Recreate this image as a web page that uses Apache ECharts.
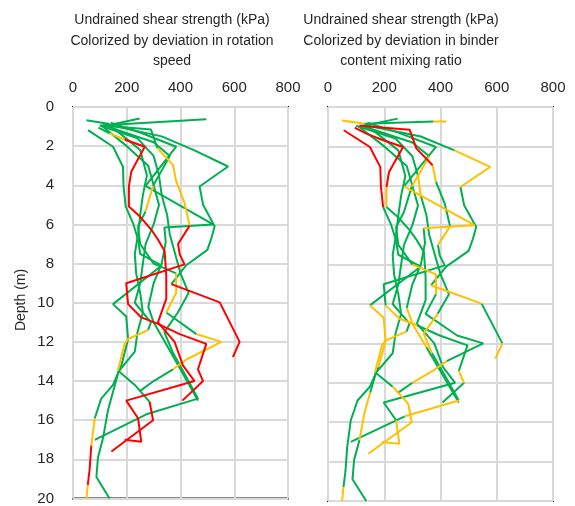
<!DOCTYPE html>
<html><head><meta charset="utf-8">
<script src="https://cdn.jsdelivr.net/npm/echarts@6/dist/echarts.min.js"></script>
<style>html,body{margin:0;padding:0;background:#fff}#c{width:575px;height:506px}</style>
</head><body><div id="c"></div>
<script>
// axis ticks
const xTicks = [0, 200, 400, 600, 800];
const depthTicks = [0, 2, 4, 6, 8, 10, 12, 14, 16, 18, 20];

// profiles: depth (m), undrained shear strength (kPa), segment colours (left panel / right panel)
// g = green, y = yellow, r = red, n = not drawn
const p1Depth = [1.05,1.35,1.66,2.03,3.3,4.06,5.08,5.58,6.26,6.77,7.36,8.6,9.8,11.0,12.0,13.2,14.0,15.0,15.9,17.1,17.0];
const p1Value = [95,136,192,267,217,208,208,248,291,316,341,347,347,316,378,409,452,198,242,254,192];
const p1Left  = "gyrrrrrrrrrrrrrrrrrr";
const p1Right = "rrrrryggggggggggggyy";

const p2Depth = [0.95,1.15,2.1,2.96,3.8,4.9,6.06,7.0,7.53,8.04,9.0,10.07,10.75,11.08,11.6,12.1,13.4,14.0,15.0];
const p2Value = [112,290,314,372,384,415,434,391,397,415,198,205,254,316,397,496,465,484,407];
const p2Left  = "ggyyyyrrrrrrrrrrrr";
const p2Right = "rrryggyggggyygggyg";

const p3Depth = [0.9,1.5,2.2,3.04,4.06,4.99,6.09,6.7,7.3,8.1,9.05,9.98,12.0,12.77];
const p3Value = [125,330,450,577,471,484,527,515,500,420,366,546,620,595];
const p3Left  = "ggggggggggrrr";
const p3Right = "ggyyggggggygy";

const p4Depth = [0.8,1.3,2.03,4.03,6.0,6.15,6.9,8.0,9.0,10.2,11.0,12.2,15.0];
const p4Value = [140,250,384,270,521,340,345,330,300,280,300,350,465];
const p4Left  = "gggggggggggg";
const p4Right = "gggyyggggyyg";

const p5Depth = [1.18,2.03,3.05,4.03,5.08,6.0,6.77,7.5,8.1,10.07,10.7,11.85,13.2,14.2,14.9,15.9,17.3,18.5,19.3,20.0];
const p5Value = [56,149,186,188,196,225,242,250,330,149,198,205,180,149,105,81,68,62,55,50];
const p5Left  = "gggggggggggggggyrry";
const p5Right = "rrrrgggggyyyggggggy";

const p6Depth = [0.68,0.85,2.2,3.5,4.5,5.5,6.5,7.5,8.5,9.5,10.5,11.5,12.5,13.5,14.5,15.5,16.9,17.9,18.9,20.0];
const p6Value = [50,130,250,275,260,250,242,230,235,250,260,240,230,170,150,130,112,93,87,136];
const p6Left  = "ggggggggggggggggggg";
const p6Right = "ygggggggggggggyyggg";

const p7Depth = [0.63,0.95,1.6,2.5,3.5,4.5,5.5,6.5,7.5,8.5,9.5,10.5,11.5,12.5,14.0,14.9,15.7,17.0];
const p7Value = [496,100,240,300,320,330,350,360,380,400,430,390,340,370,430,465,273,81];
const p7Left  = "ggggggggggggggggg";
const p7Right = "ngggyggggggyyggyg";

const p8Depth = [0.59,1.0,2.0,3.0,4.0,5.0,6.0,7.0,8.0,9.0,10.0,11.0,11.4,11.85,12.1,13.46,14.2,15.06,16.0,17.6];
const p8Value = [248,110,200,280,300,320,300,270,260,250,230,290,279,205,192,167,230,285,298,143];
const p8Left  = "ggggggggggggyyyggrr";
const p8Right = "ggggggggggggyyygyyy";

const p9Depth = [1.0,1.8,2.5,4.03,5.33,6.1,7.0,8.0,8.5,9.5,10.5,11.6,12.0,12.9,13.4,14.0,14.5];
const p9Value = [130,300,360,298,270,242,250,300,384,384,347,459,552,422,372,300,250];
const p9Left  = "gggyggggyygyyygg";
const p9Right = "ggyggggyyggggyyg";

// short top line that appears only in the right panel
const rTopDepth = [0.73,0.74,0.85];
const rTopValue = [421,375,130];
const rTopLeft  = "nn";
const rTopRight = "yg";

// ---------- build ----------
const profiles = [
  [p1Depth,p1Value,p1Left,p1Right],[p2Depth,p2Value,p2Left,p2Right],
  [p3Depth,p3Value,p3Left,p3Right],[p4Depth,p4Value,p4Left,p4Right],
  [p5Depth,p5Value,p5Left,p5Right],[p6Depth,p6Value,p6Left,p6Right],
  [p7Depth,p7Value,p7Left,p7Right],[p8Depth,p8Value,p8Left,p8Right],
  [p9Depth,p9Value,p9Left,p9Right],[rTopDepth,rTopValue,rTopLeft,rTopRight]
];
const COL = {g:'#00B050', y:'#FFC000', r:'#FF0000'};
const series = [];
function addRuns(depth, value, cols, panel){
  let i = 0;
  while (i < cols.length){
    const c = cols[i];
    let j = i;
    while (j + 1 < cols.length && cols[j+1] === c) j++;
    if (COL[c]){
      const data = [];
      for (let k = i; k <= j + 1; k++) data.push([value[k], depth[k]]);
      series.push({type:'line', xAxisIndex:panel, yAxisIndex:panel, data:data,
        showSymbol:false, symbol:'none', lineStyle:{color:COL[c], width:2}, itemStyle:{color:COL[c]},
        silent:true, animation:false, z:3});
    }
    i = j + 1;
  }
}
['g','y','r'].forEach(function(pass){
  profiles.forEach(function(p){
    [2,3].forEach(function(ci, panel){
      const cols = p[ci].split('').map(function(ch){ return ch === pass ? ch : 'n'; }).join('');
      addRuns(p[0], p[1], cols, panel);
    });
  });
});

const font = 'Liberation Sans, Arial, sans-serif';
const txt = '#262626';
function xAx(gi){
  return {gridIndex:gi, type:'value', position:'top', min:xTicks[0], max:xTicks[xTicks.length-1], interval:xTicks[1]-xTicks[0],
    axisLine:{show:false}, axisTick:{show:false},
    axisLabel:{show:true, margin:12, fontSize:15, color:txt, fontFamily:font},
    splitLine:{show:true, lineStyle:{color:'#d9d9d9', width:2}}};
}
function yAx(gi, showLab){
  return {gridIndex:gi, type:'value', inverse:true, min:depthTicks[0], max:depthTicks[depthTicks.length-1], interval:depthTicks[1]-depthTicks[0],
    axisLine:{show:false}, axisTick:{show:false},
    axisLabel:{show:showLab, margin:19, fontSize:15, color:txt, fontFamily:font},
    splitLine:{show:true, lineStyle:{color:'#d9d9d9', width:2}}};
}
function t(s, x, y){
  return {type:'text', style:{text:s, x:x, y:y, textAlign:'center', textVerticalAlign:'middle', fontSize:14, fill:txt, fontFamily:font}};
}
const chart = echarts.init(document.getElementById('c'), null, {renderer:'canvas'});
chart.setOption({
  backgroundColor:'#fff',
  animation:false,
  grid:[
    {left:73, top:107, width:215, height:394, show:true, borderColor:'#111', borderWidth:2, backgroundColor:'transparent'},
    {left:328, top:107, width:225, height:394, show:true, borderColor:'#111', borderWidth:2, backgroundColor:'transparent'}
  ],
  xAxis:[xAx(0), xAx(1)],
  yAxis:[yAx(0,true), yAx(1,false)],
  graphic:[
    t('Undrained shear strength (kPa)', 172, 20),
    t('Colorized by deviation in rotation', 172, 41),
    t('speed', 172, 61),
    t('Undrained shear strength (kPa)', 401, 20),
    t('Colorized by deviation in binder', 401, 41),
    t('content mixing ratio', 401, 61),
    {type:'text', rotation:Math.PI/2, x:21, y:300, style:{text:'Depth (m)', x:0, y:0, textAlign:'center', textVerticalAlign:'middle', fontSize:14, fill:txt, fontFamily:font}}
  ],
  series:series
});
</script></body></html>
